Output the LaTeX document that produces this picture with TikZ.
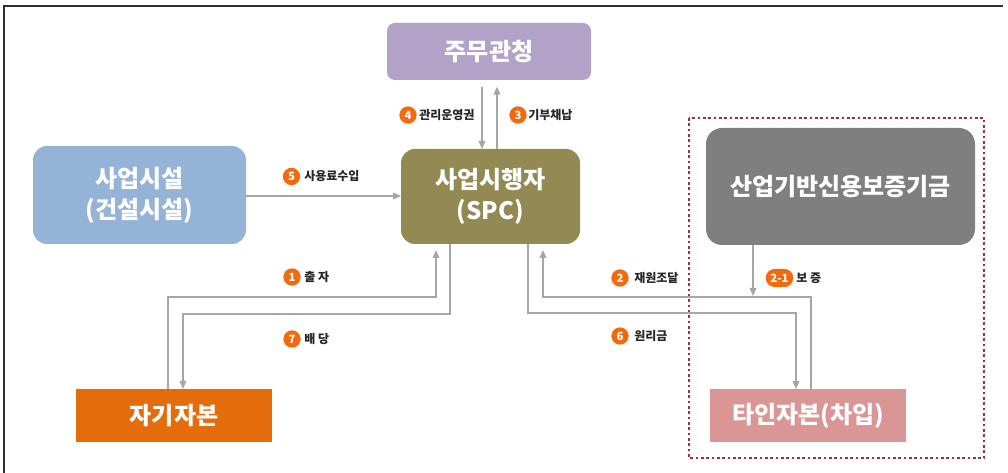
\documentclass[tikz,border=0pt]{standalone}
\usepackage{fontspec}
\setmainfont{Noto Sans CJK KR}
\usetikzlibrary{arrows.meta}
\definecolor{jumuc}{HTML}{B3A2C7}
\definecolor{spcc}{HTML}{938953}
\definecolor{facc}{HTML}{95B3D7}
\definecolor{fundc}{HTML}{7F7F7F}
\definecolor{jagic}{HTML}{E46C0A}
\definecolor{tainc}{HTML}{D99694}
\definecolor{badgec}{HTML}{F26A0C}
\definecolor{arrc}{HTML}{A6A6A6}
\definecolor{dotc}{HTML}{953735}
\definecolor{textc}{HTML}{262626}
\definecolor{framec}{HTML}{303030}
\tikzset{
  box/.style={inner sep=0pt, outer sep=0pt, text=white, align=center,
    font=\fontsize{18}{23}\selectfont\bfseries},
  arr/.style={draw=arrc, line width=1.1pt, -{Triangle[length=6pt,width=5pt]}},
  badge/.style={circle, fill=badgec, text=white, inner sep=0pt, minimum size=13pt,
    font=\fontsize{8.5}{8.5}\selectfont\bfseries},
  pill/.style={rectangle, rounded corners=6.5pt, fill=badgec, text=white, inner sep=0pt,
    minimum width=20.5pt, minimum height=13.5pt, font=\fontsize{8.5}{8.5}\selectfont\bfseries},
  lbl/.style={anchor=west, inner sep=0pt, text=textc, font=\fontsize{9}{10}\selectfont\bfseries}
}
\begin{document}
\begin{tikzpicture}[x=0.75pt,y=-0.75pt]
\useasboundingbox (0,0) rectangle (1008,473);
\draw[framec, line width=1.2pt] (4,473) -- (4,6) -- (1003,6);

% dotted group frame
\draw[dotc, line width=2pt, dash pattern=on 2pt off 2pt] (689,118) rectangle (984,458);

% boxes
\node[box, fill=jumuc, rounded corners=6pt, minimum width=153pt, minimum height=42.75pt]
  (jumu) at (489,51.5) {주무관청};
\node[box, fill=spcc, rounded corners=10.5pt, minimum width=134.25pt, minimum height=71.25pt]
  (spc) at (490.5,196.5) {사업시행자\\(SPC)};
\node[box, fill=facc, rounded corners=10.5pt, minimum width=159.75pt, minimum height=73.5pt]
  (fac) at (139.5,195) {사업시설\\(건설시설)};
\node[box, fill=fundc, rounded corners=12pt, minimum width=201.75pt, minimum height=87.75pt]
  (fund) at (840.5,186.5) {산업기반신용보증기금};
\node[box, fill=jagic, minimum width=147pt, minimum height=39.75pt]
  (jagi) at (174,415.5) {자기자본};
\node[box, fill=tainc, minimum width=147pt, minimum height=39.75pt]
  (tain) at (808,415.5) {타인자본(차입)};

% connectors
\draw[arr, shorten <=5pt] (jumu.south -| 482,0) -- (spc.north -| 482,0);
\draw[arr, shorten >=5pt] (spc.north -| 497,0) -- (jumu.south -| 497,0);
\draw[arr] (fac.east |- 0,196) -- (spc.west |- 0,196);
\draw[arr, shorten >=4.5pt] (jagi.north -| 168,0) |- (436,297) -- (spc.south -| 436,0);
\draw[arr] (spc.south -| 450,0) |- (183,314) -- (jagi.north -| 183,0);
\draw[arr, shorten >=4.5pt] (tain.north -| 811,0) |- (543,297) -- (spc.south -| 543,0);
\draw[arr] (spc.south -| 528,0) |- (796,313) -- (tain.north -| 796,0);
\coordinate (g) at (753,296);
\draw[arr] (fund.south -| 753,0) -- (g);

% labels
\node[badge] (b4) at (408,115) {4};
\node[lbl] (t4) at (419,115) {관리운영권};
\node[badge] (b3) at (518,115) {3};
\node[lbl] (t3) at (528,115) {기부채납};
\node[badge] (b5) at (291.5,176.5) {5};
\node[lbl] (t5) at (304,176.5) {사용료수입};
\node[badge] (b1) at (292,277) {1};
\node[lbl] (t1) at (304,277) {출 자};
\node[badge] (b7) at (292,339) {7};
\node[lbl] (t7) at (304,339) {배 당};
\node[badge] (b2) at (620,278) {2};
\node[lbl] (t2) at (634,278) {재원조달};
\node[badge] (b6) at (620,336) {6};
\node[lbl] (t6) at (634,336) {원리금};
\node[pill] (b21) at (779.5,278) {2-1};
\node[lbl] (t21) at (796,278) {보 증};
\end{tikzpicture}
\end{document}
